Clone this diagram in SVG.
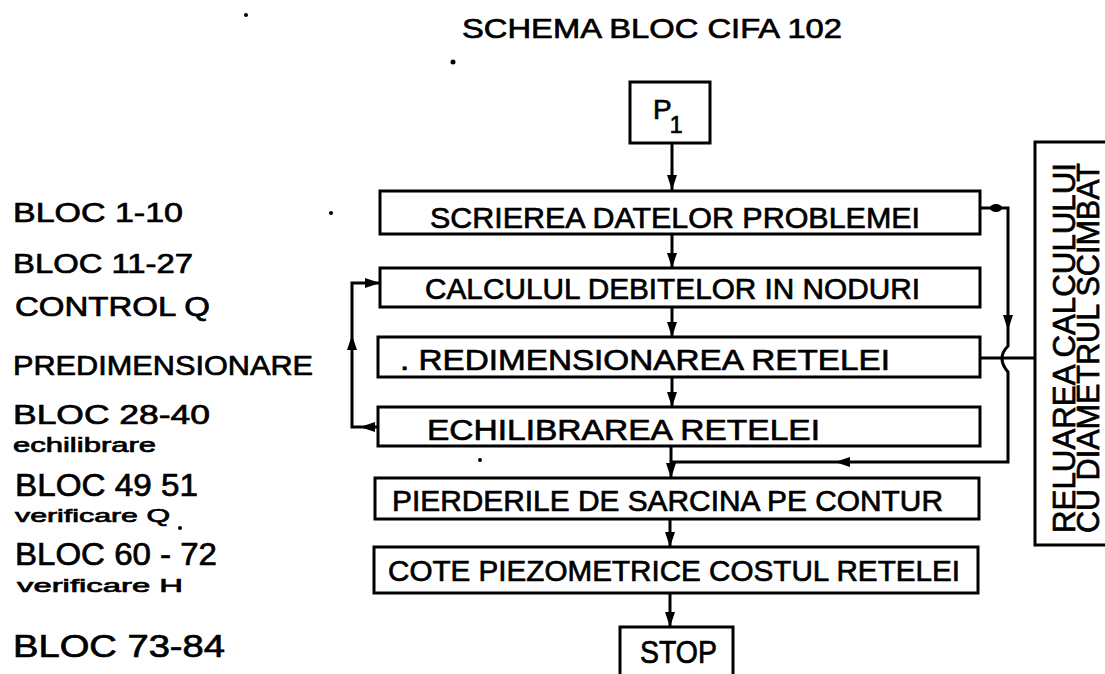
<svg xmlns="http://www.w3.org/2000/svg" xmlns:xlink="http://www.w3.org/1999/xlink" width="1105" height="674" viewBox="0 0 1105 674">
<style>
.box{fill:none;stroke:#000;stroke-width:3}
.ln{fill:none;stroke:#000;stroke-width:3}
.t{font-family:"Liberation Sans","DejaVu Sans",Arial,sans-serif;fill:#000;stroke:#000;stroke-width:0.7}
.bt{font-size:30px}
.lb{font-size:27px}
.lb2{font-size:31px}
.sm{font-size:19px}
</style>
<defs>
<path id="ah" d="M0,0 L-5,-15 L5,-15 Z" fill="#000"/>
</defs>
<rect width="1105" height="674" fill="#fff"/>

<text id="title" class="t" x="462" y="38" font-size="28" textLength="380" lengthAdjust="spacingAndGlyphs">SCHEMA BLOC CIFA 102</text>

<g id="labels">
<text class="t lb" x="13" y="222" textLength="170" lengthAdjust="spacingAndGlyphs">BLOC 1-10</text>
<text class="t lb" x="13" y="273" textLength="180" lengthAdjust="spacingAndGlyphs">BLOC 11-27</text>
<text class="t lb" x="15" y="316" textLength="195" lengthAdjust="spacingAndGlyphs">CONTROL Q</text>
<text class="t lb" x="13" y="375" textLength="300" lengthAdjust="spacingAndGlyphs">PREDIMENSIONARE</text>
<text class="t lb" x="13" y="424" textLength="197" lengthAdjust="spacingAndGlyphs">BLOC 28-40</text>
<text class="t" font-size="20" x="13" y="452" textLength="143" lengthAdjust="spacingAndGlyphs">echilibrare</text>
<text class="t lb2" x="15" y="496" textLength="183" lengthAdjust="spacingAndGlyphs">BLOC 49 51</text>
<text class="t sm" x="15" y="522" textLength="155" lengthAdjust="spacingAndGlyphs">verificare Q</text>
<text class="t lb2" x="15" y="565" textLength="202" lengthAdjust="spacingAndGlyphs">BLOC 60 - 72</text>
<text class="t sm" x="17" y="592" textLength="166" lengthAdjust="spacingAndGlyphs">verificare H</text>
<text class="t lb2" x="13" y="657" textLength="212" lengthAdjust="spacingAndGlyphs">BLOC 73-84</text>
</g>

<g id="p1">
<rect class="box" x="630" y="82" width="80" height="61"/>
<text class="t" x="653" y="119" font-size="28">P<tspan font-size="23" dx="-2" dy="14">1</tspan></text>
</g>

<g id="n1">
<rect class="box" x="380" y="191" width="600" height="43"/>
<text class="t bt" x="430" y="228" textLength="490" lengthAdjust="spacingAndGlyphs">SCRIEREA DATELOR PROBLEMEI</text>
</g>
<g id="n2">
<rect class="box" x="380" y="268" width="600" height="39"/>
<text class="t bt" x="425" y="299" textLength="495" lengthAdjust="spacingAndGlyphs">CALCULUL DEBITELOR IN NODURI</text>
</g>
<g id="n3">
<rect class="box" x="378" y="337" width="602" height="40"/>
<text class="t bt" x="400" y="370" textLength="490" lengthAdjust="spacingAndGlyphs">. REDIMENSIONAREA RETELEI</text>
</g>
<g id="n4">
<rect class="box" x="378" y="407" width="602" height="39"/>
<text class="t bt" x="427" y="440" textLength="393" lengthAdjust="spacingAndGlyphs">ECHILIBRAREA RETELEI</text>
</g>
<g id="n5">
<rect class="box" x="375" y="478" width="604" height="41"/>
<text class="t bt" x="392" y="511" textLength="551" lengthAdjust="spacingAndGlyphs">PIERDERILE DE SARCINA PE CONTUR</text>
</g>
<g id="n6">
<rect class="box" x="374" y="547" width="604" height="46"/>
<text class="t bt" x="388" y="581" textLength="572" lengthAdjust="spacingAndGlyphs">COTE PIEZOMETRICE COSTUL RETELEI</text>
</g>
<g id="stop">
<rect class="box" x="620" y="627" width="113" height="70"/>
<text class="t" x="640" y="663" font-size="31" textLength="77" lengthAdjust="spacingAndGlyphs">STOP</text>
</g>
<g id="reluare">
<path class="box" d="M1110,142 H1035 V545 H1110"/>
<text class="t" font-size="32" transform="translate(1075,348) rotate(-90)" text-anchor="middle" textLength="370" lengthAdjust="spacingAndGlyphs">RELUAREA CALCULULUI</text>
<text class="t" font-size="32" transform="translate(1099,348) rotate(-90)" text-anchor="middle" textLength="370" lengthAdjust="spacingAndGlyphs">CU DIAMETRUL SCIMBAT</text>
</g>

<g id="connectors">
<path class="ln" d="M672,143 V190"/>
<path class="ln" d="M672,234 V268"/>
<path class="ln" d="M672,307 V337"/>
<path class="ln" d="M672,377 V407"/>
<path class="ln" d="M671,446 V478"/>
<path class="ln" d="M670,519 V547"/>
<path class="ln" d="M670,593 V627"/>
<use xlink:href="#ah" href="#ah" transform="translate(672,190)"/>
<use xlink:href="#ah" href="#ah" transform="translate(672,268)"/>
<use xlink:href="#ah" href="#ah" transform="translate(672,337)"/>
<use xlink:href="#ah" href="#ah" transform="translate(672,407)"/>
<use xlink:href="#ah" href="#ah" transform="translate(671,478)"/>
<use xlink:href="#ah" href="#ah" transform="translate(670,547)"/>
<use xlink:href="#ah" href="#ah" transform="translate(670,627)"/>
<path class="ln" d="M378,427 H352 V283 H380"/>
<use xlink:href="#ah" href="#ah" transform="translate(360,427) rotate(90)"/>
<use xlink:href="#ah" href="#ah" transform="translate(352,335) rotate(180)"/>
<use xlink:href="#ah" href="#ah" transform="translate(380,283) rotate(-90)"/>
<path class="ln" d="M980,208 H1008 V346 Q996,358 1008,372 V462 H672"/>
<ellipse cx="996" cy="208" rx="6" ry="4" fill="#000"/>
<use xlink:href="#ah" href="#ah" transform="translate(1008,330)"/>
<use xlink:href="#ah" href="#ah" transform="translate(835,462) rotate(90)"/>
<path class="ln" d="M980,358 H1035"/>
</g>

<g id="specks" fill="#000">
<circle cx="246" cy="15" r="2"/>
<circle cx="453" cy="62" r="2.5"/>
<circle cx="331" cy="213" r="2"/>
<circle cx="480" cy="460" r="2"/>
<circle cx="180" cy="528" r="2"/>
</g>
</svg>
